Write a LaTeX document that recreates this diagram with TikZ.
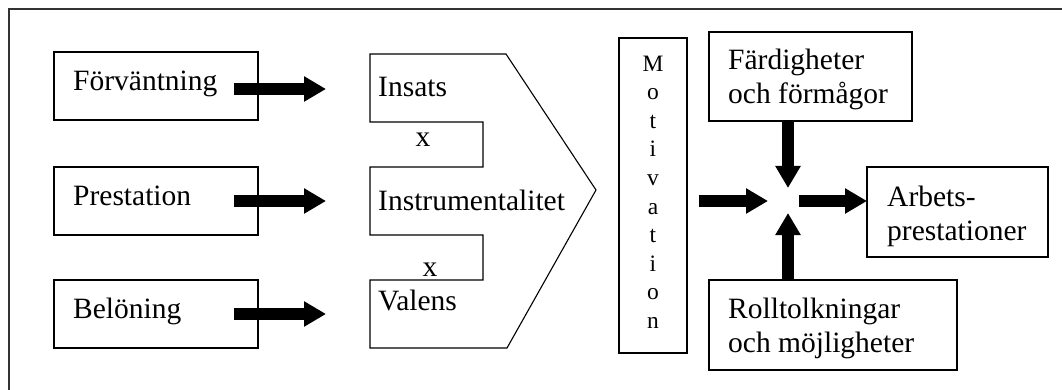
\documentclass[tikz,border=0pt]{standalone}
\usepackage{fontspec}
\setmainfont{Liberation Serif}
\usetikzlibrary{arrows.meta}
\begin{document}
\begin{tikzpicture}[x=1pt,y=-1pt,
  box/.style={draw,line width=1.1pt,inner sep=0pt,outer sep=0pt},
  lbl/.style={anchor=base west,inner sep=0pt,font=\fontsize{29.5}{34}\selectfont,align=left},
  mult/.style={anchor=base,inner sep=0pt,font=\fontsize{29.5}{34}\selectfont},
  big/.style={line width=12pt,-{Triangle[length=22pt,width=24pt]}},
]
\useasboundingbox (0,0) rectangle (1062,390);
\draw[line width=1.5pt,black!80] (9,390) -- (9,9) -- (1062,9);

% left boxes
\node[box,minimum width=204pt,minimum height=68pt] (fv) at (156,86) {};
\node[box,minimum width=204pt,minimum height=68pt] (pr) at (156,201) {};
\node[box,minimum width=204pt,minimum height=68pt] (bl) at (156,314) {};
\node[lbl] (tfv) at (73,91) {Förväntning};
\node[lbl] (tpr) at (73,205) {Prestation};
\node[lbl] (tbl) at (73,318) {Belöning};

% notched shape
\draw[line width=1.1pt,line join=miter] (370,54) -- (506,54) -- (596,190) -- (507,348) -- (370,348) -- (370,280)
  -- (483,280) -- (483,235) -- (370,235) -- (370,167) -- (483,167) -- (483,122) -- (370,122) -- cycle;
\node[lbl] (tin) at (378,97) {Insats};
\node[mult] (x1) at (423,147) {x};
\node[lbl] (tis) at (378,210) {Instrumentalitet};
\node[mult] (x2) at (430,276) {x};
\node[lbl] (tva) at (378,310) {Valens};

% motivation (base anchor = last line)
\node[box,minimum width=68pt,minimum height=315pt] (mo) at (653,195.5) {};
\node[anchor=base,inner sep=0pt,align=center,font=\fontsize{23.5}{28.6}\selectfont] (tmo) at (653,328.4)
  {M\\o\\t\\i\\v\\a\\t\\i\\o\\n};

% right boxes
\node[box,minimum width=203pt,minimum height=89pt] (fa) at (810.5,76.5) {};
\node[box,minimum width=248pt,minimum height=90pt] (ro) at (833,325) {};
\node[box,minimum width=181pt,minimum height=90pt] (ar) at (957.5,212) {};
\node[lbl] (tfa) at (728,104) {Färdigheter\\och förmågor};
\node[lbl] (tro) at (728,352) {Rolltolkningar\\och möjligheter};
\node[lbl] (tar) at (887,240) {Arbets-\\prestationer};

% arrow coordinates
\coordinate (a1s) at (234,89);  \coordinate (a1e) at (326,89);
\coordinate (a2s) at (234,201); \coordinate (a2e) at (326,201);
\coordinate (a3s) at (234,314); \coordinate (a3e) at (326,314);
\coordinate (ms) at (699,201);  \coordinate (me) at (768,201);
\coordinate (os) at (799,201);  \coordinate (oe) at (867,201);
\coordinate (ds) at (788,121);  \coordinate (de) at (788,188);
\coordinate (us) at (788,280);  \coordinate (ue) at (788,213);

\draw[big] (a1s) -- (a1e);
\draw[big] (a2s) -- (a2e);
\draw[big] (a3s) -- (a3e);
\draw[big] (ms) -- (me);
\draw[big] (os) -- (oe);
\draw[big] (ds) -- (de);
\draw[big] (us) -- (ue);
\end{tikzpicture}
\end{document}
